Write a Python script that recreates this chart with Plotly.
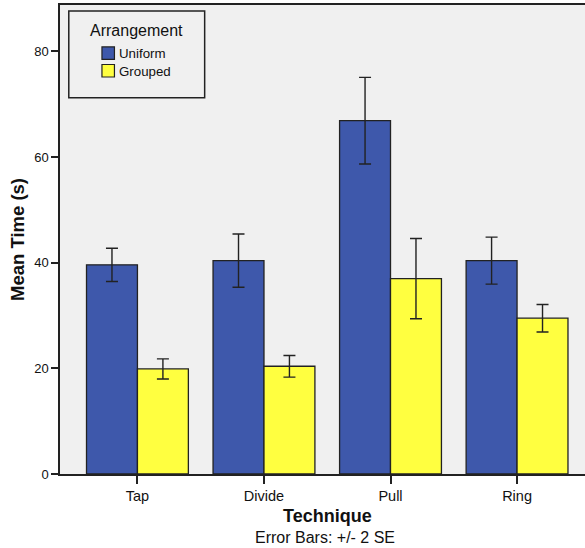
import plotly.graph_objects as go

techniques = ["Tap", "Divide", "Pull", "Ring"]
series_names = ["Uniform", "Grouped"]
uniform_mean = [39.6, 40.4, 66.9, 40.4]
uniform_err = [3.15, 5.05, 8.2, 4.45]
grouped_mean = [19.9, 20.4, 37.0, 29.5]
grouped_err = [1.9, 2.05, 7.6, 2.6]
colors = ["#3e58ab", "#ffff40"]

W, H = 585, 548
L, R, T, B = 59.5, 0, 5, 74
pw, ph = W - L - R, H - T - B

def px(x):
    return (x - L) / pw

def py(y):
    return (H - B - y) / ph

FONT = "Liberation Sans, Arial, sans-serif"

fig = go.Figure()
for name, vals, errs, col in [(series_names[0], uniform_mean, uniform_err, colors[0]),
                              (series_names[1], grouped_mean, grouped_err, colors[1])]:
    fig.add_trace(go.Bar(
        x=techniques, y=vals, name=name,
        marker=dict(color=col, line=dict(color="#222222", width=1.3)),
        error_y=dict(type="data", array=errs, visible=True, color="#222222",
                     thickness=1.4, width=6),
        showlegend=False,
    ))

fig.update_layout(
    width=W, height=H,
    margin=dict(l=L, r=R, t=T, b=B, pad=0),
    paper_bgcolor="white", plot_bgcolor="#f0f0f0",
    barmode="group", bargap=0.195, bargroupgap=0,
    font=dict(family=FONT, size=13, color="#111111"),
)
fig.update_xaxes(
    range=[-0.612, 3.537], showline=True, linecolor="#222222", linewidth=1.5,
    mirror=True, ticks="outside", ticklen=8, tickcolor="#222222", tickwidth=1.5,
    showgrid=False, tickfont=dict(size=14.5, family=FONT),
)
fig.update_yaxes(
    range=[0, 88.8], dtick=20, showline=True, linecolor="#222222", linewidth=1.5,
    ticks="outside", ticklen=7, tickcolor="#222222", tickwidth=1.5,
    showgrid=False, zeroline=False, tickfont=dict(size=13, family=FONT),
    title=dict(text="<b>Mean Time (s)</b>", font=dict(size=18.5, family=FONT), standoff=5),
)

annotations = [
    dict(x=px(327), y=py(516), xref="paper", yref="paper", text="<b>Technique</b>",
         showarrow=False, font=dict(size=18, family=FONT), xanchor="center", yanchor="middle"),
    dict(x=px(325), y=py(537), xref="paper", yref="paper", text="Error Bars: +/- 2 SE",
         showarrow=False, font=dict(size=16, family=FONT), xanchor="center", yanchor="middle"),
    dict(x=px(136), y=py(30), xref="paper", yref="paper", text="Arrangement",
         showarrow=False, font=dict(size=16, family=FONT), xanchor="center", yanchor="middle"),
]
shapes = [
    dict(type="rect", xref="paper", yref="paper", x0=px(68.3), x1=px(204.3), y0=py(97.7), y1=py(11),
         line=dict(color="#222222", width=1.5), fillcolor="#f0f0f0", layer="above"),
]
for i, (name, col) in enumerate(zip(series_names, colors)):
    top = 46.9 + i * 17.6
    shapes.append(dict(type="rect", xref="paper", yref="paper", x0=px(101.5), x1=px(114),
                       y0=py(top + 12.5), y1=py(top), line=dict(color="#222222", width=1.2),
                       fillcolor=col, layer="above"))
    annotations.append(dict(x=px(116.5), y=py(top + 6.5), xref="paper", yref="paper", text=name,
                            showarrow=False, font=dict(size=13.3, family=FONT),
                            xanchor="left", yanchor="middle"))
fig.update_layout(annotations=annotations, shapes=shapes)
fig.write_html("out.html", config={"displayModeBar": False},
               post_script="document.body.style.margin='0';document.body.style.overflow='hidden';")
